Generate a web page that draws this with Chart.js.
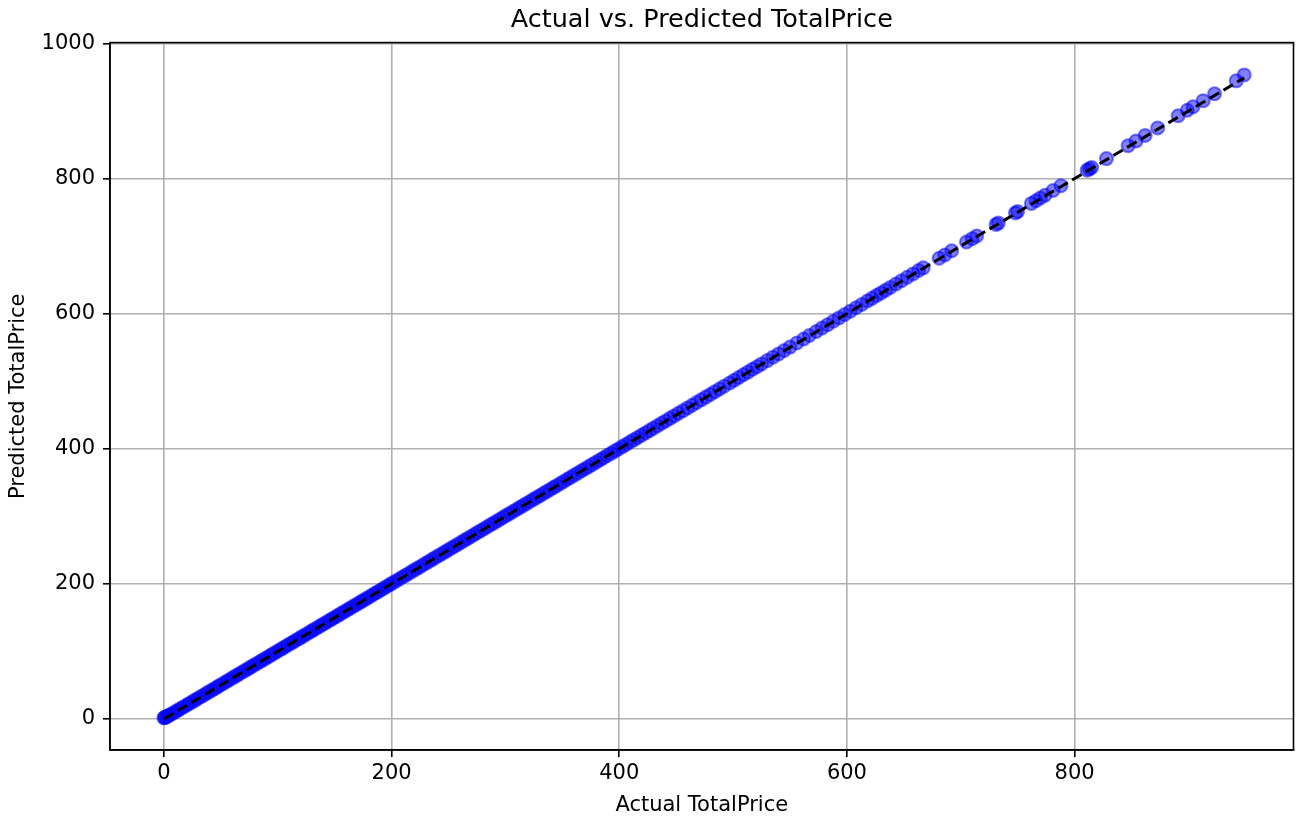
<!DOCTYPE html>
<html>
<head>
<meta charset="utf-8">
<script src="https://cdn.jsdelivr.net/npm/chart.js@4.4.1/dist/chart.umd.min.js"></script>
<style>
  body { margin: 0; background: #fff; }
  #wrap { width: 1302px; height: 821px; }
</style>
</head>
<body>
<div id="wrap"><canvas id="priceChart" width="1302" height="821"></canvas></div>
<script>
const actualPrice = [
    0, 0.6, 1.5, 2.8, 4.2, 6.0, 8.1, 10.4, 12.5, 14.9,
    17.2, 19.8, 22.0, 24.5, 27.0, 29.4, 31.9, 34.5, 36.8, 39.2,
    41.9, 44.5, 46.8, 49.0, 51.6, 54.2, 56.5, 59.0, 61.5, 64.0,
    66.4, 68.9, 71.5, 74.0, 76.2, 78.8, 81.3, 83.9, 86.2, 88.8,
    91.4, 93.8, 96.1, 98.7, 101.2, 103.8, 106.1, 108.6, 111.2, 113.7,
    116.0, 118.6, 121.1, 123.5, 126.1, 128.7, 131.0, 133.4, 136.0, 138.6,
    141.0, 143.5, 146.1, 148.4, 151.0, 153.4, 156.0, 158.5, 160.9, 163.4,
    166.0, 168.5, 171.0, 173.3, 175.9, 178.4, 181.0, 183.4, 186.0, 188.3,
    191.0, 193.4, 196.0, 198.5, 201.0, 203.9, 206.8, 209.6, 212.5, 215.3,
    218.2, 221.0, 224.0, 226.8, 229.7, 232.5, 235.4, 238.2, 241.1, 244.0,
    246.9, 249.7, 252.6, 255.4, 258.3, 261.2, 264.0, 266.9, 269.8, 272.6,
    275.5, 278.4, 281.2, 284.1, 287.0, 289.8, 292.7, 295.6, 298.4, 301.3,
    304.2, 307.0, 310.0, 312.8, 315.7, 318.6, 321.5, 324.4, 327.2, 330.1,
    333.0, 336.0, 339.0, 342.0, 345.0, 348.1, 351.2, 354.3, 357.4, 360.5,
    363.7, 366.9, 370.0, 373.2, 376.4, 379.7, 383.0, 386.2, 389.5, 392.8,
    396.0, 399.3, 402.7, 406.0, 409.4, 412.8, 416.2, 419.6, 423.0, 426.5,
    430.0, 433.6, 437.2, 440.8, 444.5, 448.2, 452.0, 456.0, 460.0, 464.0,
    468.0, 472.0, 476.0, 480.0, 484.0, 488.0, 492.0, 497.0, 501.0, 505.0,
    509.0, 513.0, 517.0, 521.0, 525.0, 530.0, 535.0, 540.0, 545.0, 550.0,
    556.0, 562.0, 567.0, 573.0, 578.0, 583.0, 588.0, 593.0, 598.0, 603.0,
    608.0, 613.0, 618.0, 622.0, 626.0, 630.0, 634.0, 638.0, 643.0, 648.0,
    653.0, 658.0, 663.0, 667.0, 681.0, 686.0, 692.0, 705.0, 710.0, 714.0,
    731.0, 733.0, 748.0, 750.0, 762.0, 766.0, 770.0, 774.0, 781.0, 788.0,
    811.0, 813.0, 815.0, 828.0, 847.0, 854.0, 862.0, 873.0, 891.0, 899.0,
    904.0, 913.0, 923.0, 942.0, 949.0
];

const predictedPrice = [
    1.7, 2.1, 2.6, 3.9, 5.1, 6.8, 8.9, 11.0, 13.2, 15.5,
    17.9, 20.3, 22.7, 25.0, 27.6, 29.9, 32.5, 34.9, 37.4, 39.8,
    42.4, 44.9, 47.3, 49.7, 52.1, 54.8, 57.0, 59.6, 62.0, 64.6,
    66.9, 69.5, 72.0, 74.4, 76.8, 79.3, 81.9, 84.3, 86.8, 89.2,
    91.9, 94.3, 96.7, 99.1, 101.8, 104.2, 106.6, 109.1, 111.7, 114.1,
    116.6, 119.0, 121.6, 124.0, 126.5, 129.2, 131.5, 133.9, 136.4, 139.1,
    141.4, 144.0, 146.5, 148.9, 151.5, 153.8, 156.5, 158.9, 161.4, 163.8,
    166.5, 168.9, 171.5, 173.8, 176.3, 178.9, 181.4, 183.9, 186.4, 188.8,
    191.4, 193.9, 196.4, 198.9, 201.5, 204.3, 207.2, 210.1, 212.9, 215.8,
    218.6, 221.5, 224.4, 227.2, 230.2, 232.9, 235.9, 238.6, 241.6, 244.4,
    247.4, 250.1, 253.1, 255.8, 258.8, 261.6, 264.5, 267.3, 270.3, 273.0,
    276.0, 278.8, 281.7, 284.5, 287.5, 290.2, 293.2, 296.0, 298.9, 301.8,
    304.6, 307.5, 310.4, 313.3, 316.1, 319.1, 321.9, 324.9, 327.6, 330.6,
    333.4, 336.5, 339.4, 342.5, 345.4, 348.6, 351.6, 354.8, 357.8, 361.0,
    364.1, 367.4, 370.5, 373.6, 376.9, 380.1, 383.5, 386.6, 390.0, 393.2,
    396.5, 399.7, 403.2, 406.4, 409.9, 413.2, 416.7, 420.0, 423.5, 426.9,
    430.5, 434.0, 437.7, 441.2, 445.0, 448.6, 452.5, 456.4, 460.5, 464.4,
    468.5, 472.4, 476.5, 480.4, 484.5, 488.4, 492.5, 497.4, 501.5, 505.5,
    509.5, 513.5, 517.6, 521.4, 525.6, 530.5, 535.6, 540.4, 545.6, 550.5,
    556.6, 562.5, 567.7, 573.5, 578.6, 583.5, 588.7, 593.6, 598.7, 603.6,
    608.7, 613.6, 618.8, 622.6, 626.8, 630.7, 634.8, 638.7, 643.8, 648.8,
    653.9, 658.8, 663.9, 667.8, 682.0, 686.9, 693.0, 706.0, 711.0, 715.0,
    732.1, 734.0, 749.1, 751.1, 763.2, 767.1, 771.3, 775.2, 782.3, 789.3,
    812.4, 814.3, 816.4, 829.5, 848.6, 855.7, 863.8, 874.9, 893.0, 901.1,
    906.2, 915.3, 925.4, 944.6, 953.4
];

const xTicks = [0, 200, 400, 600, 800];
const yTicks = [0, 200, 400, 600, 800, 1000];

const scatterPoints = actualPrice.map((a, i) => ({ x: a, y: predictedPrice[i] }));
const lineMin = Math.min(...actualPrice);
const lineMax = Math.max(...actualPrice);

const font = 'DejaVu Sans';

// matplotlib draws the full box around the axes
const frameBox = {
    id: 'frameBox',
    afterDatasetsDraw(chart) {
        const { ctx, chartArea } = chart;
        ctx.save();
        ctx.strokeStyle = '#000';
        ctx.lineWidth = 1.6;
        ctx.strokeRect(chartArea.left, chartArea.top, chartArea.right - chartArea.left, chartArea.bottom - chartArea.top);
        ctx.restore();
    }
};

const ctx = document.getElementById('priceChart').getContext('2d');
const priceChart = new Chart(ctx, {
    type: 'scatter',
    data: {
        datasets: [{
            type: 'line',
            data: [{ x: lineMin, y: lineMin }, { x: lineMax, y: lineMax }],
            borderColor: '#000',
            borderWidth: 3,
            borderDash: [11, 5],
            pointRadius: 0,
            fill: false,
            showLine: true
        }, {
            data: scatterPoints,
            backgroundColor: 'rgba(0, 0, 255, 0.5)',
            borderColor: 'rgba(0, 0, 255, 0.5)',
            borderWidth: 2,
            pointRadius: 6.5
        }]
    },
    options: {
        responsive: false,
        animation: false,
        events: [],
        layout: { padding: { left: 0, right: 0, top: 0, bottom: 0 } },
        plugins: {
            legend: { display: false },
            tooltip: { enabled: false },
            title: {
                display: true,
                text: 'Actual vs. Predicted TotalPrice',
                fullSize: false,
                color: '#000',
                font: { family: font, size: 25.5, weight: 'normal' },
                padding: { top: 5, bottom: 7 }
            }
        },
        scales: {
            x: {
                type: 'linear',
                min: -47.4,
                max: 992.3,
                afterBuildTicks: s => { s.ticks = xTicks.map(v => ({ value: v })); },
                afterFit: s => { s.height = 71; },
                grid: { color: '#b0b0b0', lineWidth: 1.6, tickColor: '#000', tickWidth: 1.6, tickLength: 7 },
                border: { display: true, color: '#000', width: 1.6 },
                ticks: { color: '#000', font: { family: font, size: 21 }, padding: 4, maxRotation: 0, callback: v => String(v) },
                title: {
                    display: true,
                    text: 'Actual TotalPrice',
                    color: '#000',
                    font: { family: font, size: 21 },
                    padding: { top: 0, bottom: 3 }
                }
            },
            y: {
                type: 'linear',
                min: -45.9,
                max: 1001.2,
                afterBuildTicks: s => { s.ticks = yTicks.map(v => ({ value: v })); },
                afterFit: s => { s.width = 110; },
                grid: { color: '#b0b0b0', lineWidth: 1.6, tickColor: '#000', tickWidth: 1.6, tickLength: 7 },
                border: { display: true, color: '#000', width: 1.6 },
                ticks: { color: '#000', font: { family: font, size: 21 }, padding: 8, callback: v => String(v) },
                title: {
                    display: true,
                    text: 'Predicted TotalPrice',
                    color: '#000',
                    font: { family: font, size: 21 },
                    padding: { top: 6, bottom: 0 }
                }
            }
        }
    },
    plugins: [frameBox]
});
</script>
</body>
</html>
